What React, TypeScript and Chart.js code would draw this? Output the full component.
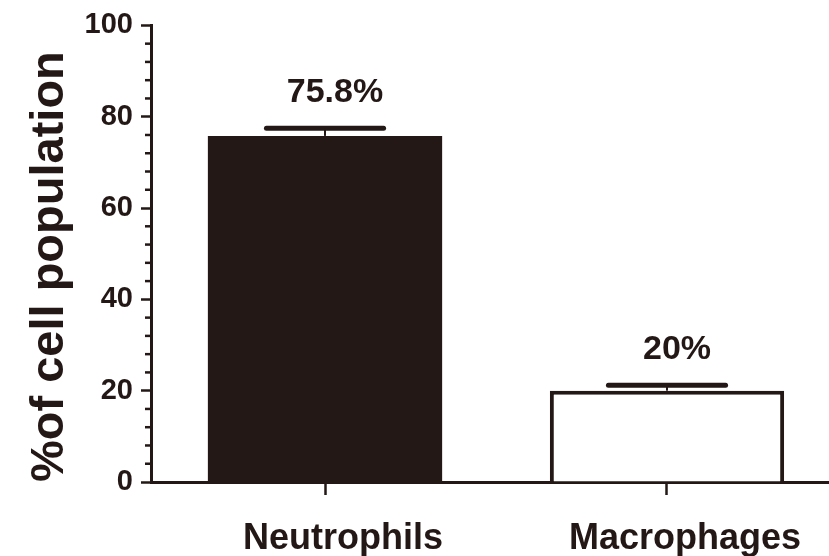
import React, { useEffect, useRef } from "react";
import { Chart, registerables } from "chart.js";

Chart.register(...registerables);

const categories = ["Neutrophils", "Macrophages"];
const meanValues = [75.8, 20];
const errorValues = [1.7, 1.2];
const yTickLabels = [0, 20, 40, 60, 80, 100];
const yAxisTitle = "%of cell population";

const FONT = '"Liberation Sans", Arial, Helvetica, sans-serif';
const INK = "#231815";

const errorBarPlugin = {
  id: "errorBarsAndLabels",
  afterDatasetsDraw(chart: any) {
    const meta = chart.getDatasetMeta(0);
    const yScale = chart.scales.y;
    const ctx = chart.ctx;
    meta.data.forEach((bar: any, i: number) => {
      const p = bar.getProps(["x", "y", "width"], true);
      const top = yScale.getPixelForValue(meanValues[i] + errorValues[i]);
      ctx.save();
      ctx.strokeStyle = INK;
      ctx.lineWidth = 2;
      ctx.beginPath();
      ctx.moveTo(p.x, p.y);
      ctx.lineTo(p.x, top);
      ctx.stroke();
      ctx.lineWidth = 5;
      ctx.lineCap = "round";
      const half = p.width * 0.25;
      ctx.beginPath();
      ctx.moveTo(p.x - half, top);
      ctx.lineTo(p.x + half, top);
      ctx.stroke();
      ctx.font = `bold 34px ${FONT}`;
      ctx.fillStyle = INK;
      ctx.textAlign = "center";
      ctx.textBaseline = "middle";
      ctx.fillText(`${meanValues[i]}%`, p.x + 10, top - 36);
      ctx.restore();
    });
  },
  afterDraw(chart: any) {
    const yScale = chart.scales.y;
    const ctx = chart.ctx;
    const x0 = chart.chartArea.left;
    ctx.save();
    ctx.strokeStyle = INK;
    ctx.lineWidth = 2.5;
    yScale.ticks.forEach((t: any) => {
      if (yTickLabels.includes(t.value)) return;
      const py = yScale.getPixelForValue(t.value);
      ctx.beginPath();
      ctx.moveTo(x0 - 6, py);
      ctx.lineTo(x0, py);
      ctx.stroke();
    });
    ctx.restore();
  },
};

export default function App() {
  const ref = useRef<HTMLCanvasElement | null>(null);

  useEffect(() => {
    document.body.style.margin = "0";
    const canvas = ref.current;
    if (!canvas) return;
    const chart = new Chart(canvas, {
      type: "bar",
      data: {
        datasets: [
          {
            data: meanValues.map((v, i) => ({ x: i, y: v })),
            backgroundColor: [INK, "#ffffff"],
            borderColor: INK,
            borderWidth: [0, 4],
            borderSkipped: "bottom",
            barPercentage: 0.685,
            categoryPercentage: 1,
          } as any,
        ],
      },
      options: {
        animation: false,
        responsive: false,
        layout: { padding: { top: 25, right: 0, left: 0, bottom: 0 } },
        plugins: { legend: { display: false }, tooltip: { enabled: false } },
        scales: {
          x: {
            type: "linear",
            offset: false,
            min: -0.5088,
            max: 1.4737,
            afterBuildTicks: (scale: any) => {
              scale.ticks = categories.map((_, i) => ({ value: i }));
            },
            afterFit: (scale: any) => {
              scale.height = 74;
            },
            ticks: {
              callback: (v: any) => categories[v] ?? "",
              font: { family: FONT, size: 36, weight: "bold" },
              color: INK,
              padding: 22,
              labelOffset: 18,
              maxRotation: 0,
              autoSkip: false,
            },
            grid: {
              offset: false,
              drawOnChartArea: false,
              tickLength: 13,
              tickWidth: 2.5,
              tickColor: INK,
            },
            border: { display: true, color: INK, width: 3 },
          },
          y: {
            min: 0,
            max: 100,
            afterFit: (scale: any) => {
              scale.width = 151;
            },
            ticks: {
              stepSize: 4,
              autoSkip: false,
              callback: (v: any) => (yTickLabels.includes(v) ? String(v) : ""),
              font: { family: FONT, size: 29, weight: "bold" },
              color: INK,
              padding: 8,
            },
            grid: {
              drawOnChartArea: false,
              tickLength: 10,
              tickWidth: 2.5,
              tickColor: (c: any) =>
                yTickLabels.includes(c.tick?.value) ? INK : "rgba(0,0,0,0)",
            },
            border: { display: true, color: INK, width: 3 },
            title: {
              display: true,
              text: yAxisTitle,
              align: "start",
              font: { family: FONT, size: 47, weight: "bold" },
              color: INK,
              padding: { top: 22, bottom: 0 },
            },
          },
        },
      } as any,
      plugins: [errorBarPlugin],
    });
    return () => chart.destroy();
  }, []);

  return <canvas ref={ref} width={829} height={556} style={{ display: "block" }} />;
}
